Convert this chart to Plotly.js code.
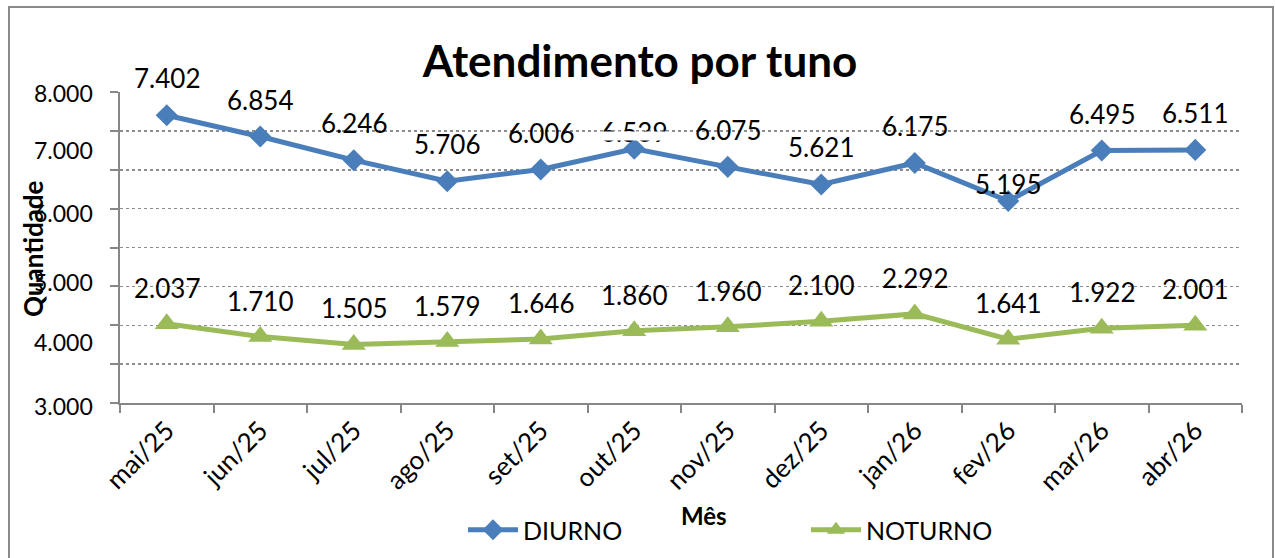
<!DOCTYPE html>
<html>
<head>
<meta charset="utf-8">
<script src="https://cdn.plot.ly/plotly-3.0.1.min.js"></script>
<style>
  html, body { margin: 0; padding: 0; background: #fff; overflow: hidden; }
  #chart { width: 1275px; height: 558px; }
  #frame { position: absolute; left: 8px; top: 6px; width: 1262px; height: 600px;
           border: 2px solid #8a8a8a; pointer-events: none; }
</style>
</head>
<body>
<div id="chart"></div>
<div id="frame"></div>
<script>
// ---- data ----
const months = ['mai/25','jun/25','jul/25','ago/25','set/25','out/25','nov/25','dez/25','jan/26','fev/26','mar/26','abr/26'];
const diurno  = [7402, 6854, 6246, 5706, 6006, 6539, 6075, 5621, 6175, 5195, 6495, 6511];
const noturno = [2037, 1710, 1505, 1579, 1646, 1860, 1960, 2100, 2292, 1641, 1922, 2001];
const yTickText = ['8.000','7.000','6.000','5.000','4.000','3.000'];

// ---- layout constants ----
const W = 1275, H = 558;
const M = {l: 120, r: 33, t: 92, b: 155};
const plotH = H - M.t - M.b;
const yMax = 8000;
const yTickPx = [93, 150, 213, 282, 342, 406];   // where the axis labels are drawn (px from top)
const FONT = 'Lato, "Open Sans", sans-serif';
const blue = '#4a7ebb', green = '#9bbb59', gray = '#878787';

function fmt(v) { return String(v).replace(/\B(?=(\d{3})+(?!\d))/g, '.'); }
function pxToPaper(px) { return (H - M.b - px) / plotH; }

const traces = [
  {x: months, y: diurno, name: 'DIURNO', type: 'scatter', mode: 'lines+markers',
   line: {color: blue, width: 5}, marker: {symbol: 'diamond', size: 17, color: blue}},
  {x: months, y: noturno, name: 'NOTURNO', type: 'scatter', mode: 'lines+markers',
   line: {color: green, width: 5}, marker: {symbol: 'triangle-up', size: 21, color: green}}
];

const annotations = [];
const labelFont = {family: FONT, size: 26, color: '#000'};
const lowShift = {5: 17, 9: 17};
months.forEach((m, i) => {
  annotations.push({x: m, y: diurno[i], text: fmt(diurno[i]), showarrow: false,
    yanchor: 'middle', xanchor: 'center', yshift: (i in lowShift) ? lowShift[i] : 37, font: labelFont});
});
months.forEach((m, i) => {
  annotations.push({x: m, y: noturno[i], text: fmt(noturno[i]), showarrow: false,
    yanchor: 'middle', xanchor: 'center', yshift: 36, font: labelFont});
});
// clipped part of the out/25 label
annotations.push({x: months[5], y: diurno[5], text: ' ', showarrow: false, bgcolor: '#ffffff',
  width: 74, height: 8, borderpad: 0, yanchor: 'middle', yshift: 13});

// y tick labels
yTickText.forEach((t, i) => {
  annotations.push({xref: 'paper', yref: 'paper', x: 0, y: pxToPaper(yTickPx[i]), text: t,
    xanchor: 'right', yanchor: 'middle', xshift: -25, showarrow: false,
    font: {family: FONT, size: 23, color: '#000'}});
});
// axis titles
annotations.push({xref: 'paper', yref: 'paper', x: (704 - M.l) / (W - M.l - M.r), y: pxToPaper(515),
  text: '<b>Mês</b>', showarrow: false, xanchor: 'center', yanchor: 'middle',
  font: {family: FONT, size: 24, color: '#000'}});
annotations.push({xref: 'paper', yref: 'paper', x: (33 - M.l) / (W - M.l - M.r), y: pxToPaper(249),
  text: '<b>Quantidade</b>', textangle: -90, showarrow: false, xanchor: 'center', yanchor: 'middle',
  font: {family: FONT, size: 26, color: '#000'}});

const layout = {
  width: W, height: H,
  margin: M,
  paper_bgcolor: '#fff', plot_bgcolor: '#fff',
  font: {family: FONT, color: '#000'},
  title: {text: '<b>Atendimento por tuno</b>', x: 640 / W, xanchor: 'center', xref: 'container',
          y: 1 - 62 / H, yanchor: 'middle', yref: 'container',
          font: {family: FONT, size: 44, color: '#000'}},
  showlegend: true,
  legend: {orientation: 'h', x: 463 / W, xanchor: 'left', xref: 'container',
           y: 1 - 530 / H, yanchor: 'middle', yref: 'container',
           entrywidth: 278, entrywidthmode: 'pixels', itemwidth: 50,
           font: {family: FONT, size: 25, color: '#000'}, bgcolor: 'rgba(0,0,0,0)'},
  xaxis: {type: 'category', range: [-0.5, 11.5], showline: true, linecolor: gray, linewidth: 2,
          ticks: 'outside', tickson: 'boundaries', ticklen: 8, tickcolor: gray, tickwidth: 2,
          tickangle: -45, tickfont: {family: FONT, size: 26, color: '#000'},
          showgrid: false, zeroline: false, fixedrange: true, automargin: false},
  yaxis: {range: [0, yMax], tick0: 0, dtick: 1000, showline: true, linecolor: gray, linewidth: 2,
          ticks: 'outside', ticklen: 8, tickcolor: gray, tickwidth: 2,
          showticklabels: false, showgrid: true, gridcolor: '#8c8c8c', griddash: 'dot', gridwidth: 1.5,
          zeroline: false, fixedrange: true, automargin: false},
  annotations: annotations
};

Plotly.newPlot('chart', traces, layout, {displayModeBar: false, staticPlot: true});
</script>
</body>
</html>
